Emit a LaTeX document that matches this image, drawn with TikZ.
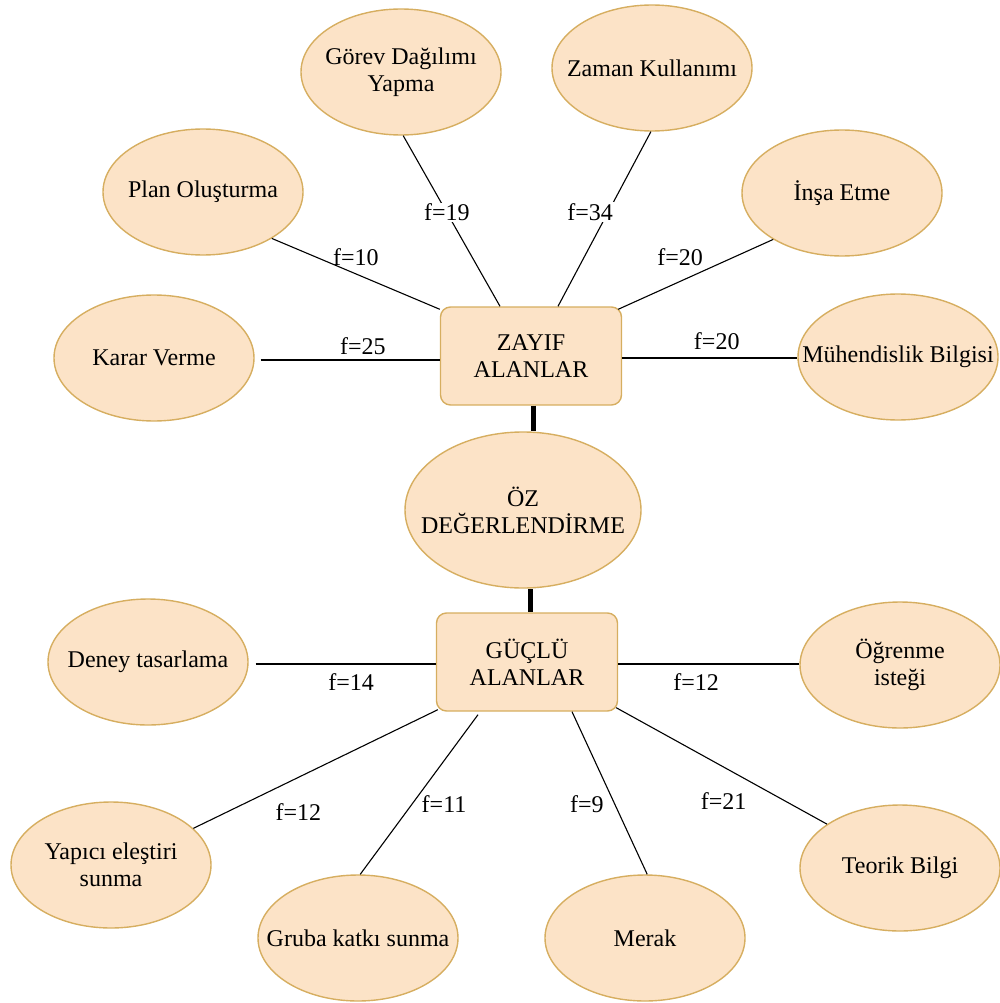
\documentclass[tikz,border=0pt]{standalone}
\usepackage{fontspec}
\setmainfont{Liberation Serif}
\usetikzlibrary{shapes.geometric,calc}
\definecolor{peach}{HTML}{FCE3C7}
\definecolor{tan}{HTML}{D6AE60}
\begin{document}
\begin{tikzpicture}[x=1pt,y=-1pt,
  font=\fontsize{24}{27}\selectfont,
  leaf/.style={ellipse,draw=tan,fill=peach,line width=1.4pt,
    minimum width=200pt,minimum height=126pt,inner xsep=-40pt,inner ysep=-12pt,align=center},
  hub/.style={rectangle,rounded corners=10pt,draw=tan,fill=peach,line width=1.4pt,
    minimum width=181pt,minimum height=98pt,inner sep=0pt,align=center},
  core/.style={ellipse,draw=tan,fill=peach,line width=1.4pt,
    minimum width=236pt,minimum height=156pt,inner xsep=-40pt,inner ysep=-12pt,align=center},
  link/.style={draw=black,line width=1.1pt},
  spine/.style={draw=black,line width=5pt},
  lbl/.style={inner sep=1pt},
  cut/.style={lbl,fill=white}]
\useasboundingbox (0,0) rectangle (1000,1003);

% centre
\node[hub]  (zayif) at (531,356) {ZAYIF\\ALANLAR};
\node[core] (oz)    at (523,510) {ÖZ\\DEĞERLENDİRME};
\node[hub]  (guclu) at (527,662) {GÜÇLÜ\\ALANLAR};

% weak areas
\node[leaf] (gorev) at (401,72)  {Görev Dağılımı\\Yapma};
\node[leaf] (zaman) at (652,68)  {Zaman Kullanımı};
\node[leaf] (plan)  at (203,192) {Plan Oluşturma};
\node[leaf] (insa)  at (842,193) {İnşa Etme};
\node[leaf] (karar) at (154,358) {Karar Verme};
\node[leaf] (muh)   at (898,357) {Mühendislik Bilgisi};

% strong areas
\node[leaf] (deney)  at (148,662) {Deney tasarlama};
\node[leaf] (ogren)  at (900,665) {Öğrenme\\isteği};
\node[leaf] (yapici) at (111,865) {Yapıcı eleştiri\\sunma};
\node[leaf] (gruba)  at (358,938) {Gruba katkı sunma};
\node[leaf] (merak)  at (645,938) {Merak};
\node[leaf] (teorik) at (900,868) {Teorik Bilgi};

% spine
\draw[spine] ($(zayif.south)+(2,0)$) -- ($(oz.north)+(10,0)$);
\draw[spine] ($(oz.south)+(7,0)$) -- ($(guclu.north)+(3,0)$);

% weak-area connectors
\draw[link] (plan.-34) -- ($(zayif.north west)+(0,3)$)
  node[lbl,pos=0.5,yshift=17pt] {f=10};
\draw[link] (gorev.-88) -- ($(zayif.north)+(-31,0)$)
  node[cut,pos=0.45] {f=19};
\draw[link] ($(karar.east)+(6,2)$) -- ($(zayif.west)+(0,4)$)
  node[lbl,pos=0.57,yshift=14pt] {f=25};
\draw[link] (zaman.-91) -- ($(zayif.north)+(27,0)$)
  node[cut,pos=0.46,xshift=-18pt] {f=34};
\draw[link] (insa.-146) -- ($(zayif.north east)+(-4,3)$)
  node[lbl,pos=0.6,yshift=24pt] {f=20};
\draw[link] ($(zayif.east)+(0,2)$) -- ($(muh.west)+(0,1)$)
  node[lbl,pos=0.54,yshift=17pt] {f=20};

% strong-area connectors
\draw[link] ($(deney.east)+(7,2)$) -- ($(guclu.west)+(0,2)$)
  node[lbl,pos=0.53,yshift=-18pt] {f=14};
\draw[link] ($(guclu.south west)+(2,-2)$) -- (yapici.24)
  node[lbl,pos=0.57,yshift=-35pt] {f=12};
\draw[link] ($(guclu.south)+(-49,3)$) -- (gruba.88)
  node[lbl,pos=0.56,xshift=32pt] {f=11};
\draw[link] ($(guclu.east)+(0,2)$) -- ($(ogren.west)+(0,-1)$)
  node[lbl,pos=0.43,yshift=-18pt] {f=12};
\draw[link] ($(guclu.south)+(45,0)$) -- (merak.88)
  node[lbl,pos=0.57,xshift=-28pt] {f=9};
\draw[link] ($(guclu.south east)+(-2,-4)$) -- (teorik.149)
  node[lbl,pos=0.51,yshift=-34pt] {f=21};
\end{tikzpicture}
\end{document}
